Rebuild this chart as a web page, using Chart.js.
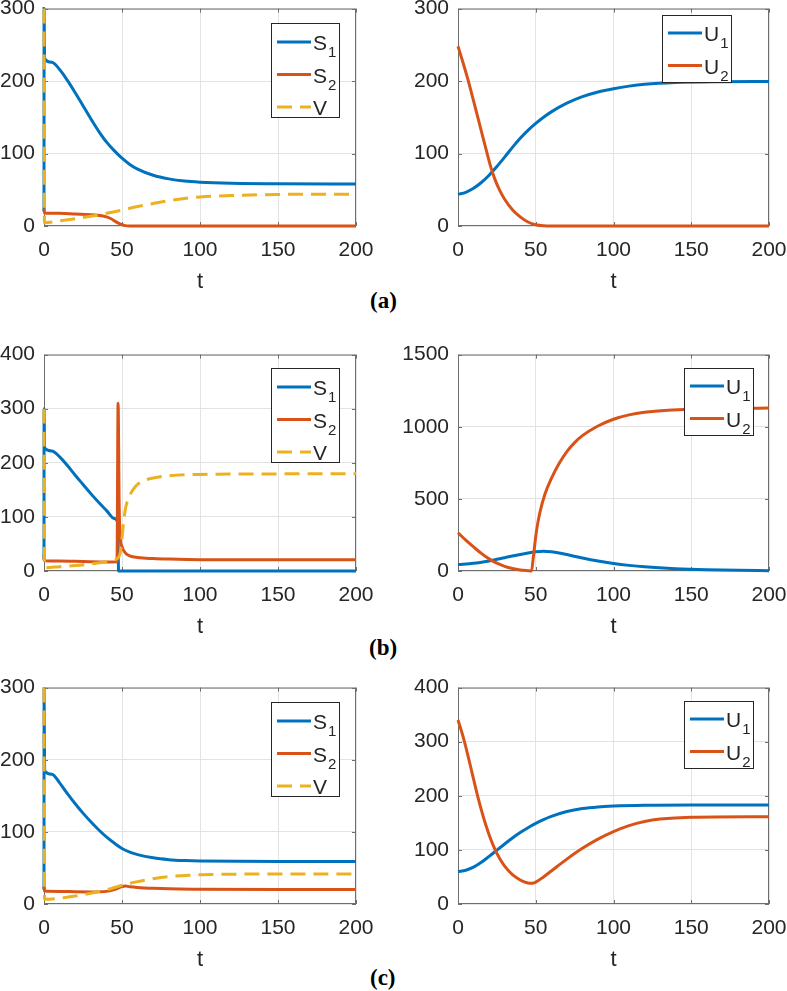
<!DOCTYPE html>
<html>
<head>
<meta charset="utf-8">
<script src="https://cdn.jsdelivr.net/npm/chart.js@4/dist/chart.umd.min.js"></script>
<style>
  html, body { margin: 0; padding: 0; background: #fff; }
  body { width: 787px; height: 991px; position: relative; overflow: hidden; }
  canvas { position: absolute; }
  .tag { position: absolute; font: bold 23px "Liberation Serif", "Times New Roman", serif; line-height: 24px; color: #000; }
</style>
</head>
<body>
<div class="tag" style="left:370px;top:289px">(a)</div>
<div class="tag" style="left:369px;top:636px">(b)</div>
<div class="tag" style="left:370px;top:966px">(c)</div>
<script>
// ---- panel (a) ----
const aS1_t = [0, 0.05, 0.4, 5, 10, 15, 20, 25, 30, 35, 40, 45, 50, 55, 60, 70, 80, 90, 100, 120, 150, 200];
const aS1_v = [20, 300, 231, 226, 216, 201, 184, 166, 148, 131, 116, 104, 93.5, 85, 78.5, 70, 65, 62, 60.5, 59, 58.2, 58];
const aS2_t = [0, 0.3, 10, 20, 30, 37, 40, 43, 46, 49, 52, 55, 60, 200];
const aS2_v = [24, 18, 17.5, 16.5, 15.5, 14, 12.5, 10, 6, 2.5, 0.5, 0, 0, 0];
const aV_t = [0, 0.3, 10, 20, 30, 40, 50, 60, 70, 80, 90, 100, 120, 150, 200];
const aV_v = [300, 4.5, 7, 10, 13.5, 17.5, 22, 27, 31, 35, 38, 40, 42, 43.5, 44];
const aU1_t = [0, 5, 10, 15, 20, 25, 30, 35, 40, 45, 50, 55, 60, 70, 80, 90, 100, 110, 120, 140, 170, 200];
const aU1_v = [43.5, 46.5, 52, 60, 70, 82, 95, 108.5, 121, 132, 141.5, 150, 157.5, 169.5, 178.5, 185, 189.5, 193, 195.5, 198, 199.2, 199.5];
const aU2_t = [0, 3, 6, 9, 12, 15, 18, 21, 24, 27, 30, 35, 40, 45, 50, 55, 60, 200];
const aU2_v = [248, 227, 205, 181, 156, 131, 106, 82, 63, 48.5, 37, 22.5, 12.5, 5.5, 1.8, 0.3, 0, 0];

// ---- panel (b) ----
const bS1_t = [0, 0.05, 0.4, 5, 10, 15, 20, 25, 30, 35, 40, 45, 47.3, 47.8, 50, 200];
const bS1_v = [20, 300, 227, 222, 211, 195, 177, 160, 143, 127, 112, 97, 89, 0, 0, 0];
const bS2_t = [0, 0.3, 10, 20, 30, 40, 46.8, 47.5, 48.2, 48.8, 50, 52, 55, 60, 70, 80, 100, 200];
const bS2_v = [30, 19, 18.5, 18, 17, 16.5, 17, 310, 120, 65, 45, 34, 28, 25, 23, 22, 21, 21];
const bV_t = [0, 0.3, 10, 20, 30, 40, 45, 47.5, 49, 50, 51, 52, 53, 55, 57, 60, 65, 70, 80, 100, 150, 200];
const bV_v = [300, 6, 8, 10, 13, 17, 21, 24, 35, 60, 90, 112, 125, 140, 150, 160, 168, 172, 176, 178.5, 179.5, 180];
const bU1_t = [0, 10, 20, 30, 40, 45, 50, 55, 60, 65, 70, 80, 90, 100, 110, 120, 140, 160, 180, 200];
const bU1_v = [45, 53, 70, 92, 115, 125, 133, 137, 133, 125, 114, 90, 69, 52, 39, 29, 16, 8.5, 4.5, 2.5];
const bU2_t = [0, 5, 10, 15, 20, 25, 30, 35, 40, 45, 47.3, 48.4, 50.5, 52.7, 56, 60, 65, 70, 75, 80, 90, 100, 110, 120, 135, 150, 200];
const bU2_v = [265, 214, 167, 122, 84, 54, 32.5, 17.5, 7.5, 2, 0, 93, 280, 407, 535, 640, 745, 828, 890, 938, 1005, 1052, 1082, 1100, 1115, 1122, 1130];

// ---- panel (c) ----
const cS1_t = [0, 0.05, 0.4, 5, 10, 15, 20, 25, 30, 35, 40, 45, 50, 55, 60, 70, 80, 90, 100, 150, 200];
const cS1_v = [20, 300, 185, 180, 168, 153, 139, 126, 114, 103, 93, 84.5, 77, 72, 68.5, 64, 61.5, 60.2, 59.5, 59, 59];
const cS2_t = [0, 0.3, 10, 20, 30, 40, 45, 50, 52, 55, 60, 70, 80, 100, 150, 200];
const cS2_v = [25, 18, 17.5, 17, 16.8, 17.5, 20, 24, 25, 24, 23, 21.8, 21, 20.5, 20, 20];
const cV_t = [0, 0.3, 10, 20, 30, 40, 50, 60, 70, 80, 90, 100, 150, 200];
const cV_v = [300, 6.5, 8, 11, 15, 19.5, 26, 31, 35, 38, 39.5, 40.5, 41.5, 41.5];
const cU1_t = [0, 5, 10, 15, 20, 25, 30, 35, 40, 45, 50, 55, 60, 70, 80, 90, 100, 120, 150, 200];
const cU1_v = [60, 62.5, 68, 77, 88, 99.5, 111, 122, 132, 141, 149, 156, 162, 171, 176.5, 179.5, 181, 182.5, 183, 183];
const cU2_t = [0, 3, 6, 9, 12, 15, 18, 21, 24, 27, 30, 35, 40, 43, 46, 48, 50, 55, 60, 70, 80, 90, 100, 110, 120, 130, 150, 200];
const cU2_v = [340, 312, 279, 243, 207, 174, 145, 120, 99.5, 83, 70, 54.5, 44.5, 40.5, 38.3, 38.5, 40.5, 50, 61, 83, 103, 120, 134, 145, 152.5, 157, 160.5, 161.5];

const xTicks = [0, 50, 100, 150, 200];

const BLUE = '#0072BD', ORANGE = '#D95319', YELLOW = '#EDB120';
const INK = '#262626';
const FONT = '"Liberation Sans", Arial, Helvetica, sans-serif';

function pts(t, v) {
    return t.map((x, i) => ({x: x, y: v[i]}));
}

// axes box + inward ticks, like matlab
const frame = {
    id: 'frame',
    beforeDatasetsDraw(chart) {
        const {ctx, chartArea: a, scales} = chart;
        ctx.save();
        ctx.strokeStyle = '#6e6e6e';
        ctx.lineWidth = 1;
        ctx.strokeRect(a.left + 0.5, a.top + 0.5, a.right - a.left - 1, a.bottom - a.top - 1);
        ctx.beginPath();
        scales.x.ticks.forEach(tk => {
            const px = Math.round(scales.x.getPixelForValue(tk.value)) + 0.5;
            ctx.moveTo(px, a.bottom); ctx.lineTo(px, a.bottom - 4);
            ctx.moveTo(px, a.top); ctx.lineTo(px, a.top + 4);
        });
        scales.y.ticks.forEach(tk => {
            const py = Math.round(scales.y.getPixelForValue(tk.value)) + 0.5;
            ctx.moveTo(a.left, py); ctx.lineTo(a.left + 4, py);
            ctx.moveTo(a.right, py); ctx.lineTo(a.right - 4, py);
        });
        ctx.stroke();
        ctx.restore();
    }
};

// boxed legend with subscripts
const boxLegend = {
    id: 'boxLegend',
    afterDatasetsDraw(chart, args, o) {
        const ctx = chart.ctx;
        ctx.save();
        ctx.fillStyle = '#fff';
        ctx.fillRect(o.x, o.y, o.w, o.h);
        ctx.strokeStyle = INK;
        ctx.lineWidth = 1;
        ctx.strokeRect(o.x + 0.5, o.y + 0.5, o.w - 1, o.h - 1);
        chart.data.datasets.forEach((ds, i) => {
            const cy = o.y + o.first + i * o.step;
            ctx.strokeStyle = ds.borderColor;
            ctx.lineWidth = 3;
            ctx.setLineDash(ds.borderDash || []);
            ctx.beginPath();
            ctx.moveTo(o.x + 6, cy);
            ctx.lineTo(o.x + 40, cy);
            ctx.stroke();
            ctx.setLineDash([]);
            const parts = ds.label.split('_');
            ctx.fillStyle = INK;
            ctx.textAlign = 'left';
            ctx.textBaseline = 'alphabetic';
            ctx.font = '21px ' + FONT;
            ctx.fillText(parts[0], o.x + 42, cy + 8);
            if (parts[1]) {
                const w = ctx.measureText(parts[0]).width;
                ctx.font = '15px ' + FONT;
                ctx.fillText(parts[1], o.x + 43 + w, cy + 15);
            }
        });
        ctx.restore();
    }
};

function makePanel(p) {
    // the y-axis box is wide enough for "1500": chart.js clips tick labels to it
    const padL = 10, axisW = 60, padR = 30, padT = 20, axisH = 70, padB = 5;
    const plotW = p.box[2] - p.box[0], plotH = p.box[3] - p.box[1];
    const left = p.box[0] - padL - axisW, top = p.box[1] - padT;
    const cv = document.createElement('canvas');
    cv.width = padL + axisW + plotW + padR;
    cv.height = padT + plotH + axisH + padB;
    cv.style.left = left + 'px';
    cv.style.top = top + 'px';
    document.body.appendChild(cv);

    const n = p.series.length;
    const datasets = p.series.map((s, i) => ({
        label: s.label,
        data: pts(s.t, s.v),
        borderColor: s.color,
        borderDash: s.dash ? [15, 8] : [],
        borderWidth: 3,
        pointRadius: 0,
        fill: false,
        clip: 2,
        cubicInterpolationMode: 'monotone',
        order: n - i
    }));

    const lg = p.legend;
    new Chart(cv, {
        type: 'line',
        data: {datasets: datasets},
        plugins: [frame, boxLegend],
        options: {
            responsive: false,
            animation: false,
            layout: {padding: {left: padL, right: padR, top: padT, bottom: padB}},
            plugins: {
                legend: {display: false},
                tooltip: {enabled: false},
                boxLegend: {
                    x: lg.x - left, y: lg.y - top, w: lg.w, h: lg.h,
                    first: n === 3 ? 19 : 18, step: 32.5
                }
            },
            scales: {
                x: {
                    type: 'linear', min: 0, max: 200,
                    afterBuildTicks: s => { s.ticks = xTicks.map(v => ({value: v})); },
                    ticks: {padding: 12, color: INK, font: {family: FONT, size: 21}, callback: v => String(v)},
                    grid: {color: '#e3e3e3', drawTicks: false},
                    border: {display: false},
                    title: {display: true, text: 't', color: INK, font: {family: FONT, size: 22}, padding: {top: 0, bottom: 1}},
                    afterFit: s => { s.height = axisH; }
                },
                y: {
                    type: 'linear', min: 0, max: p.yTicks[p.yTicks.length - 1],
                    afterBuildTicks: s => { s.ticks = p.yTicks.map(v => ({value: v})); },
                    ticks: {padding: 9, color: INK, font: {family: FONT, size: 21}, callback: v => String(v)},
                    grid: {color: '#e3e3e3', drawTicks: false},
                    border: {display: false},
                    afterFit: s => { s.width = axisW; }
                }
            }
        }
    });
}

const panels = [
    {box: [44, 7, 356, 226], yTicks: [0, 100, 200, 300], legend: {x: 271, y: 23, w: 69, h: 95},
     series: [{label: 'S_1', t: aS1_t, v: aS1_v, color: BLUE},
              {label: 'S_2', t: aS2_t, v: aS2_v, color: ORANGE},
              {label: 'V', t: aV_t, v: aV_v, color: YELLOW, dash: true}]},
    {box: [458, 7, 769, 226], yTicks: [0, 100, 200, 300], legend: {x: 662, y: 15, w: 70, h: 68},
     series: [{label: 'U_1', t: aU1_t, v: aU1_v, color: BLUE},
              {label: 'U_2', t: aU2_t, v: aU2_v, color: ORANGE}]},
    {box: [44, 353, 356, 571], yTicks: [0, 100, 200, 300, 400], legend: {x: 271, y: 368, w: 69, h: 95},
     series: [{label: 'S_1', t: bS1_t, v: bS1_v, color: BLUE},
              {label: 'S_2', t: bS2_t, v: bS2_v, color: ORANGE},
              {label: 'V', t: bV_t, v: bV_v, color: YELLOW, dash: true}]},
    {box: [458, 353, 769, 571], yTicks: [0, 500, 1000, 1500], legend: {x: 684, y: 368, w: 70, h: 68},
     series: [{label: 'U_1', t: bU1_t, v: bU1_v, color: BLUE},
              {label: 'U_2', t: bU2_t, v: bU2_v, color: ORANGE}]},
    {box: [44, 686, 356, 904], yTicks: [0, 100, 200, 300], legend: {x: 271, y: 702, w: 69, h: 95},
     series: [{label: 'S_1', t: cS1_t, v: cS1_v, color: BLUE},
              {label: 'S_2', t: cS2_t, v: cS2_v, color: ORANGE},
              {label: 'V', t: cV_t, v: cV_v, color: YELLOW, dash: true}]},
    {box: [458, 686, 769, 904], yTicks: [0, 100, 200, 300, 400], legend: {x: 684, y: 701, w: 70, h: 68},
     series: [{label: 'U_1', t: cU1_t, v: cU1_v, color: BLUE},
              {label: 'U_2', t: cU2_t, v: cU2_v, color: ORANGE}]}
];

panels.forEach(makePanel);
</script>
</body>
</html>
